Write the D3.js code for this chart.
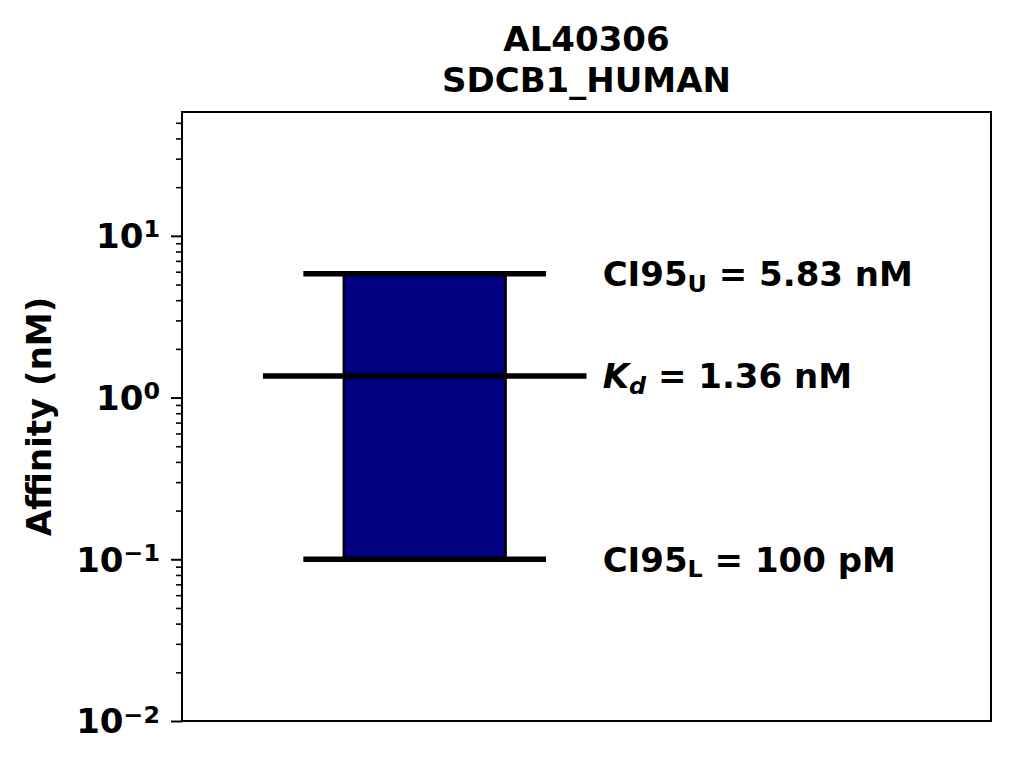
<!DOCTYPE html>
<html><head><meta charset="utf-8">
<script src="https://cdn.jsdelivr.net/npm/d3@7"></script>
<style>
body{margin:0;background:#fff;}
text{font-family:"DejaVu Sans",sans-serif;font-weight:bold;fill:#000;}
</style></head>
<body><svg id="c" width="1014" height="768"></svg>
<script>
const titleLines = ["AL40306", "SDCB1_HUMAN"];
const yLabel = "Affinity (nM)";
const kdValues = [1.36];
const ciLower = [0.1];
const ciUpper = [5.83];
const kdText = ["1.36 nM"];
const ciLowerText = ["100 pM"];
const ciUpperText = ["5.83 nM"];
const majorTickExponents = [-2, -1, 0, 1];

const svg = d3.select("#c");
const L = 182, R = 991, T = 112, B = 721;
const FS = 34;

const x = d3.scaleLinear().domain([0, 1]).range([L, R]);
const y = d3.scaleLog().domain([ciLower[0] / 10, ciUpper[0] * 10]).range([B, T]);

// bar
svg.append("rect")
  .attr("x", x(0.2)).attr("width", x(0.4) - x(0.2))
  .attr("y", y(ciUpper[0])).attr("height", y(ciLower[0]) - y(ciUpper[0]))
  .attr("fill", "#000080").attr("stroke", "#000").attr("stroke-width", 2.5);

function hline(v, x0, x1) {
  svg.append("line").attr("x1", x(x0)).attr("x2", x(x1))
    .attr("y1", y(v)).attr("y2", y(v))
    .attr("stroke", "#000").attr("stroke-width", 5.5);
}
hline(ciUpper[0], 0.15, 0.45);
hline(ciLower[0], 0.15, 0.45);
hline(kdValues[0], 0.1, 0.5);

// annotations
const tx = x(0.52);
function ann(v, main, sub, rest, italic) {
  const t = svg.append("text").attr("x", tx).attr("y", y(v)).attr("dy", "0.36em")
    .style("font-size", FS + "px");
  const a = t.append("tspan").text(main);
  if (italic) a.style("font-style", "italic");
  const s = t.append("tspan").text(sub).attr("dy", "0.25em").style("font-size", (FS * 0.7) + "px");
  if (italic) s.style("font-style", "italic");
  t.append("tspan").text(" = " + rest).attr("dy", "-0.175em");
}
ann(ciUpper[0], "CI95", "U", ciUpperText[0], false);
ann(kdValues[0], "K", "d", kdText[0], true);
ann(ciLower[0], "CI95", "L", ciLowerText[0], false);

// axes frame
svg.append("rect").attr("x", L).attr("y", T).attr("width", R - L).attr("height", B - T)
  .attr("fill", "none").attr("stroke", "#000").attr("stroke-width", 2);

// minor ticks
const minor = y.ticks().filter(v => Math.abs(Math.log10(v) - Math.round(Math.log10(v))) > 1e-6);
const gMinor = svg.append("g").attr("transform", `translate(${L},0)`)
  .call(d3.axisLeft(y).tickValues(minor).tickSize(6).tickFormat(""));
gMinor.select(".domain").remove();
gMinor.selectAll("line").attr("stroke-width", 1.6);

// major ticks
const majors = majorTickExponents.map(e => Math.pow(10, e));
const gMajor = svg.append("g").attr("transform", `translate(${L},0)`)
  .call(d3.axisLeft(y).tickValues(majors).tickSize(11).tickFormat(""));
gMajor.select(".domain").remove();
gMajor.selectAll("line").attr("stroke-width", 2);

majorTickExponents.forEach(e => {
  const t = svg.append("text").attr("x", 160).attr("y", y(Math.pow(10, e))).attr("dy", "0.36em")
    .attr("text-anchor", "end").style("font-size", FS + "px");
  t.append("tspan").text("10");
  t.append("tspan").text(e < 0 ? "\u2212" + Math.abs(e) : String(e))
    .attr("dy", "-0.45em").style("font-size", (FS * 0.7) + "px");
});

// y label
svg.append("text").attr("transform", `translate(51,${(T + B) / 2}) rotate(-90)`)
  .attr("text-anchor", "middle").style("font-size", FS + "px").text(yLabel);

// title
titleLines.forEach((s, i) => {
  svg.append("text").attr("x", (L + R) / 2).attr("y", 51 + i * 41)
    .attr("text-anchor", "middle").style("font-size", FS + "px").text(s);
});
</script></body></html>
